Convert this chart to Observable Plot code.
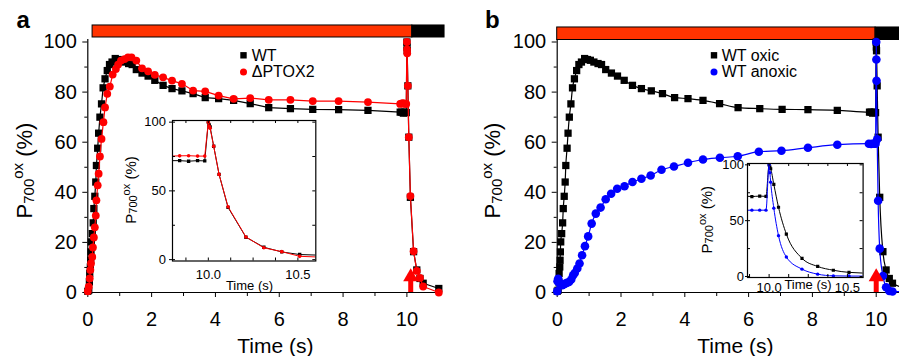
<!DOCTYPE html>
<html><head><meta charset="utf-8">
<script src="https://cdn.jsdelivr.net/npm/d3@7"></script>
<script src="https://cdn.jsdelivr.net/npm/@observablehq/plot@0.6"></script>
<style>
body{margin:0;background:#fff;}
#wrap{position:relative;width:899px;height:356px;overflow:hidden;background:#fff;}
</style></head><body><div id="wrap"></div>
<script>
const FONT = "'Liberation Sans', Arial, Helvetica, sans-serif";
const RED = "#ff0000", BAR = "#ff3300", BLUE = "#0000ff";

// ---- data: [time (s), P700ox (%)] ----
const wt = [[0,0.5],[0.03,0.9],[0.05,4.2],[0.06,7.6],[0.08,10.2],[0.09,12.9],[0.10,16.2],[0.11,20.2],[0.14,23.5],[0.17,27.8],[0.19,33.5],[0.22,38.4],[0.25,44.1],[0.27,50.7],[0.31,57.6],[0.34,63.6],[0.38,70],[0.43,75.3],[0.48,81.7],[0.54,85.3],[0.61,88.6],[0.68,91],[0.76,92],[0.86,93.4],[0.95,93],[1.04,92.7],[1.15,92],[1.28,91.4],[1.39,91],[1.52,89],[1.7,87.6],[1.89,86.4],[2.1,84.7],[2.36,82.7],[2.64,81.4],[2.95,80.5],[3.3,79.4],[3.68,77.8],[4.1,77.4],[4.57,76.7],[5.09,75.4],[5.67,73.8],[6.35,73.4],[7.05,73.1],[7.86,73],[8.78,72.7],[9.79,72],[9.84,72],[9.89,71.6],[9.94,72],[9.98,71.8],[10.0,100],[10.005,98],[10.01,96.5],[10.03,82.5],[10.06,62],[10.11,38],[10.21,16.3],[10.31,9],[10.41,5.6],[10.51,3.7],[11.0,1.6]];
const ptox2 = [[0,0.5],[0.03,2.3],[0.06,5.6],[0.08,9],[0.10,11.6],[0.14,14.2],[0.16,18],[0.19,22],[0.22,26],[0.25,30.7],[0.27,36.8],[0.31,42.8],[0.34,47.4],[0.38,54.3],[0.43,61.3],[0.49,68],[0.54,73.9],[0.61,79.3],[0.69,82.2],[0.78,87],[0.88,89.2],[0.95,91],[1.04,92.6],[1.15,93.2],[1.26,93.9],[1.37,93.9],[1.52,92.6],[1.7,89.5],[1.89,88.3],[2.1,86.9],[2.36,85.9],[2.64,84.6],[2.95,83.3],[3.3,80.6],[3.68,80.3],[4.1,78.6],[4.57,77.3],[5.09,77.6],[5.67,76.9],[6.35,76.9],[7.05,76.4],[7.86,76.4],[8.78,76],[9.79,75.3],[9.84,75.5],[9.89,75.6],[9.94,75.3],[9.98,75.3],[10.0,100],[10.005,97],[10.01,95.5],[10.03,82.5],[10.06,62],[10.11,38.5],[10.21,16.5],[10.31,8.6],[10.41,5.8],[10.51,2.4],[11.0,0]];
const anoxic = [[0,0.5],[0.01,4.5],[0.03,5.5],[0.06,4.2],[0.1,3.3],[0.16,2.9],[0.21,3.3],[0.26,3.6],[0.31,3.9],[0.37,4.2],[0.44,5.2],[0.5,6.9],[0.55,7.8],[0.63,9.6],[0.7,11.6],[0.78,14.9],[0.87,18.5],[0.97,22.4],[1.08,27.5],[1.21,31.5],[1.36,33.9],[1.52,37.2],[1.69,39.4],[1.88,41.4],[2.11,42.4],[2.36,44.1],[2.64,45.4],[2.93,46.7],[3.27,49],[3.66,50.3],[4.1,51.8],[4.57,53.1],[5.1,53.8],[5.66,54.4],[6.32,56.2],[7.03,56.6],[7.86,57.8],[8.78,59],[9.77,59.4],[9.84,59.3],[9.89,59.4],[9.94,59.4],[9.98,59.4],[10.0,100],[10.005,93],[10.01,84.5],[10.03,61.2],[10.06,36.6],[10.11,17.5],[10.21,6.6],[10.31,2.1],[10.41,0.6],[10.51,0.4],[11.0,0.3]];

// light periods (top bar): actinic light then dark
const barA = [{start:0.15, end:10.17, phase:"light"},{start:10.17, end:11.18, phase:"dark"}];
const barB = [{start:0, end:9.98, phase:"light"},{start:9.98, end:10.75, phase:"dark"}];
const pulseA = [10.12], pulseB = [10.0];   // saturating pulse arrows

const xMajor = [0,2,4,6,8,10], xMinorA = [1,3,5,7,9,11], xMinorB = [1,3,5,7,9];
const yMajor = [0,20,40,60,80,100], yMinor = [10,30,50,70,90];
const insetXMajor = [10.0, 10.5], insetXMinor = [9.875,10,10.125,10.25,10.375,10.5];
const insetYMajor = [0,50,100], insetYMinor = [0,25,50,75,100];

const legendA = [{name:"WT", color:"black", symbol:"square"},{name:"\u0394PTOX2", color:RED, symbol:"circle"}];
const legendB = [{name:"WT oxic", color:"black", symbol:"square"},{name:"WT anoxic", color:BLUE, symbol:"circle"}];

const X = d => d[0], Y = d => d[1];
const wrap = document.getElementById("wrap");
function place(el, left, top){ el.style.position="absolute"; el.style.left=left+"px"; el.style.top=top+"px"; el.style.maxWidth="none"; wrap.appendChild(el); }
const baseStyle = {fontFamily: FONT, color: "black", background: "transparent"};

function series(data, color, symbol, r, curve, sw, clip){
  return [
    Plot.line(data, {x: X, y: Y, stroke: color, strokeWidth: sw, curve, clip}),
    Plot.dot(data, {x: X, y: Y, symbol, r, fill: color, stroke: "none", clip})
  ];
}
function bar(data, y1, y2){
  return [
    Plot.rect(data.filter(d=>d.phase==="light"), {x1:"start", x2:"end", y1, y2, fill: BAR, stroke:"black", strokeWidth:1}),
    Plot.rect(data.filter(d=>d.phase==="dark"), {x1:"start", x2:"end", y1, y2, fill: "black", stroke:"black", strokeWidth:1})
  ];
}
function arrow(p){
  return [
    Plot.ruleX(p, {x: d=>d, y1: 0, y2: 4.5, stroke: RED, strokeWidth: 5}),
    Plot.dot(p, {x: d=>d, y: 6.2, symbol: "triangle", r: 5.6, fill: RED, stroke: "none"})
  ];
}
function mainAxes(xMinor){
  return [
    Plot.ruleY([0], {strokeWidth: 1.2}),
    Plot.ruleX([0], {strokeWidth: 1.2}),
    Plot.axisX(xMajor, {tickSize: 5, tickPadding: 14, fontSize: 20, label: null, tickFormat: d=>String(d)}),
    Plot.axisX(xMinor, {tickSize: 4, fill: "none", label: null}),
    Plot.axisY(yMajor, {tickSize: 5, tickPadding: 6, fontSize: 20, label: null, tickFormat: d=>String(d)}),
    Plot.axisY(yMinor, {tickSize: 3, fill: "none", label: null})
  ];
}

// ---- panel a ----
const panelA = Plot.plot({
  width: 450, height: 356, marginLeft: 87.3, marginRight: 11.7, marginTop: 39, marginBottom: 64,
  x: {domain: [0, 11], label: null}, y: {domain: [0, 101], label: null}, style: baseStyle,
  marks: [
    ...bar(barA, 101.8, 106.6),
    ...mainAxes(xMinorA),
    ...series(wt, "black", "square", 4.1, "linear", 1.2, false),
    ...series(ptox2, RED, "circle", 3.9, "linear", 1.2, false),
    ...arrow(pulseA)
  ]
});
place(panelA, 0, 0);

// ---- panel b ----
const panelB = Plot.plot({
  width: 449, height: 356, marginLeft: 106.7, marginRight: 0, marginTop: 39, marginBottom: 64,
  x: {domain: [0, 10.73], label: null}, y: {domain: [0, 101], label: null}, style: baseStyle,
  marks: [
    ...bar(barB, 100.8, 105.8),
    ...mainAxes(xMinorB),
    ...series(wt, "black", "square", 4.1, "monotone-x", 1.2, false),
    ...series(anoxic, BLUE, "circle", 4.3, "monotone-x", 1.2, false),
    ...arrow(pulseB)
  ]
});
place(panelB, 450, 0);

// ---- insets ----
function inset(o){
  const fh = o.height - o.mt - o.mb, fw = o.width - o.ml - o.mr;
  return Plot.plot({
    width: o.width, height: o.height, marginLeft: o.ml, marginRight: o.mr, marginTop: o.mt, marginBottom: o.mb,
    x: {domain: o.xd, label: null}, y: {domain: o.yd, label: null}, style: baseStyle,
    marks: [
      Plot.frame({fill: "white", stroke: "none"}),
      ...o.series,
      Plot.ruleX(insetXMinor, {insetTop: fh - 3, strokeWidth: 1}),
      Plot.ruleX(insetXMinor, {insetBottom: fh - 3, strokeWidth: 1}),
      Plot.ruleY(insetYMinor, {insetLeft: fw - 3, strokeWidth: 1}),
      Plot.ruleY(insetYMinor, {insetRight: fw - 3, strokeWidth: 1}),
      Plot.frame({stroke: "black", strokeWidth: 1.2}),
      Plot.axisX(insetXMajor, {tickSize: 0, tickPadding: o.xpad, fontSize: 13, label: null, tickFormat: d=>d.toFixed(1)}),
      Plot.axisY(insetYMajor, {tickSize: o.ytick, tickPadding: o.ypad, fontSize: 13, label: null, tickFormat: d=>String(d)})
    ]
  });
}
const insetA = inset({width: 213, height: 186, ml: 60, mr: 9.7, mt: 10, mb: 35.5, xd: [9.8, 10.6], yd: [-1, 101.2], xpad: 9, ytick: 3, ypad: 3.5,
  series: [...series(wt, "black", "square", 1.9, "linear", 1, true), ...series(ptox2, RED, "circle", 1.8, "linear", 1, true)]});
place(insetA, 111.7, 110);
const insetB = inset({width: 184, height: 149, ml: 60, mr: 8.4, mt: 10, mb: 25, xd: [9.862, 10.6], yd: [-0.9, 101.2], xpad: 5, ytick: 2, ypad: 1.5,
  series: [...series(wt, "black", "square", 1.8, "monotone-x", 1, true), ...series(anoxic, BLUE, "circle", 1.7, "monotone-x", 1, true)]});
place(insetB, 686.7, 152.7);

// ---- overlay: panel letters, axis titles, legends ----
const ov = d3.create("svg").attr("width", 899).attr("height", 356).style("font-family", FONT).style("pointer-events","none");
ov.append("text").attr("x", 16.5).attr("y", 28.3).style("font-size","24px").style("font-weight","bold").text("a");
ov.append("text").attr("x", 485).attr("y", 28.3).style("font-size","24px").style("font-weight","bold").text("b");
function title(x, y, size, s){ ov.append("text").attr("x", x).attr("y", y).attr("text-anchor","middle").style("font-size", size+"px").text(s); }
title(275.3, 352.5, 21, "Time (s)");
title(735.3, 352.5, 21, "Time (s)");
title(249.5, 289.5, 13, "Time (s)");
title(808, 289, 13, "Time (s)");
function yLabel(x, y, size, sub){
  const t = ov.append("text").attr("transform", `translate(${x},${y}) rotate(-90)`).attr("text-anchor","middle").style("font-size", size+"px");
  t.append("tspan").text("P");
  t.append("tspan").style("font-size", sub+"px").attr("dy", size*0.09).text("700");
  t.append("tspan").style("font-size", sub+"px").attr("dy", -size*0.47).text("ox");
  t.append("tspan").attr("dy", size*0.38).text(" (%)");
}
yLabel(31.7, 170.5, 22, 15);
yLabel(500, 170.5, 22, 15);
yLabel(136, 190, 15, 11);
yLabel(712, 219.7, 15, 11);
function legend(items, mx, tx, y0, dy){
  items.forEach((it, i) => {
    const cy = y0 + i*dy;
    if (it.symbol === "square") ov.append("rect").attr("x", mx-3.2).attr("y", cy-3.2).attr("width", 6.4).attr("height", 6.4).attr("fill", it.color);
    else ov.append("circle").attr("cx", mx).attr("cy", cy).attr("r", 3.5).attr("fill", it.color);
    ov.append("text").attr("x", tx).attr("y", cy + 5.2).style("font-size","16px").text(it.name);
  });
}
legend(legendA, 243.5, 251.7, 55.3, 16.7);
legend(legendB, 714, 721.7, 55.3, 16.7);
place(ov.node(), 0, 0);
</script></body></html>
